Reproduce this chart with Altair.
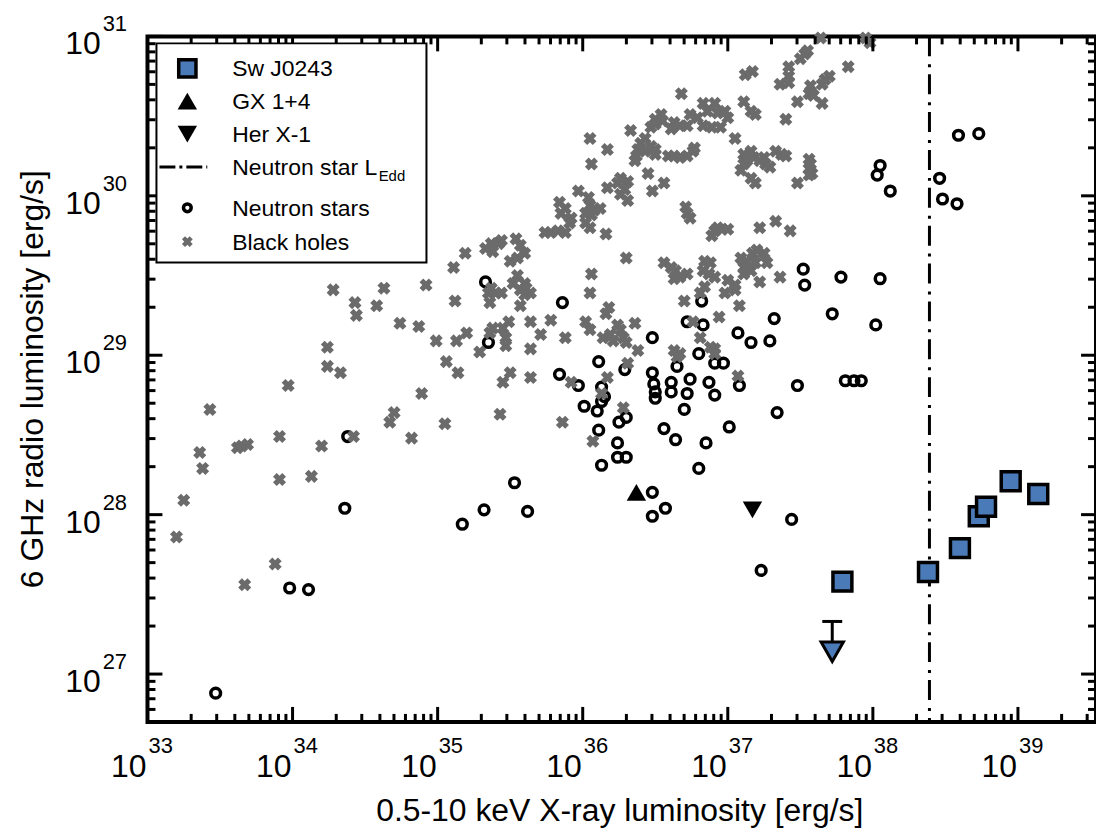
import altair as alt
import pandas as pd
import math

FONT = "Liberation Sans, Arial, Helvetica, sans-serif"

# ---- data (log10 of luminosity, erg/s) ----
bh_logx = [37.12, 37.17, 36.68, 37.11, 37.16, 37.19, 36.83, 36.91, 36.86, 36.93, 36.98, 37.00, 36.79, 36.74,
           36.83, 36.89, 36.95, 36.54, 36.50, 36.55, 36.63, 36.67, 36.72, 36.61, 36.33, 36.47, 36.50, 37.05,
           36.05, 36.17, 36.43, 36.40, 36.38, 36.47, 36.50, 36.50, 36.43, 36.59, 36.63, 36.67, 36.72, 36.76,
           36.77, 36.37, 36.36, 37.11, 37.16, 37.13, 37.18, 37.09, 37.16, 37.19, 37.11, 36.06, 36.45, 36.56,
           36.48, 36.26, 36.24, 36.31, 36.29, 36.26, 36.31, 36.17, 35.97, 35.84, 35.88, 35.85, 35.92, 35.91,
           36.04, 36.05, 36.02, 36.06, 36.02, 36.08, 36.12, 36.05, 36.16, 35.74, 35.78, 35.83, 35.88, 36.71,
           36.72, 36.74, 36.91, 36.93, 36.96, 37.00, 36.89, 36.30, 36.06, 36.56, 36.61, 36.64, 36.67, 36.63,
           36.72, 36.84, 36.88, 36.83, 36.87, 36.91, 37.00, 37.05, 37.09, 37.13, 37.17, 37.11, 37.16, 37.11,
           37.19, 35.19, 35.11, 35.33, 35.37, 35.42, 35.44, 35.54, 35.57, 35.60, 35.50, 35.55, 35.52, 35.60,
           34.92, 37.53, 37.55, 37.50, 37.83, 37.42, 37.42, 37.36, 37.42, 37.67, 37.70, 37.65, 37.57, 37.56,
           37.59, 37.65, 37.48, 37.40, 37.22, 37.26, 37.29, 37.25, 37.33, 37.37, 37.40, 37.56, 37.57, 37.56,
           37.58, 37.56, 37.48, 37.22, 37.33, 37.43, 37.20, 37.25, 37.27, 37.36, 37.22, 37.64, 37.95, 37.98,
           34.28, 34.43, 34.44, 34.58, 34.63, 35.12, 34.74, 34.87, 34.99, 35.13, 35.06, 35.14, 34.24, 34.24,
           34.33, 33.97, 33.43, 34.89, 34.70, 34.67, 35.05, 33.91, 34.20, 34.42, 34.82, 33.36, 33.38, 33.62,
           33.65, 33.69, 33.91, 34.13, 33.25, 33.20, 33.88, 33.67, 35.38, 35.55, 35.61, 35.64, 35.60, 35.57,
           35.37, 35.40, 35.44, 35.35, 35.36, 35.57, 36.05, 36.16, 36.18, 37.05, 36.98, 37.08, 36.70, 36.84,
           36.81, 36.76, 36.81, 36.94, 36.88, 36.91, 36.91, 36.63, 36.67, 36.65, 37.07, 36.02, 36.05, 36.14,
           36.19, 36.26, 36.24, 36.28, 36.30, 36.36, 36.21, 36.38, 36.31, 35.78, 35.64, 35.71, 35.64, 35.88,
           35.49, 35.45, 35.38, 35.36, 35.47, 35.47, 35.20, 35.29, 35.50, 35.45, 35.64, 35.92, 35.43, 35.86,
           36.13, 36.17, 36.28, 36.07]
bh_logy = [30.76, 30.78, 30.64, 30.59, 30.53, 30.51, 30.58, 30.58, 30.53, 30.52, 30.53, 30.49, 30.49, 30.51,
           30.44, 30.43, 30.43, 30.51, 30.48, 30.47, 30.46, 30.44, 30.44, 30.42, 30.41, 30.43, 30.45, 30.36,
           30.36, 30.29, 30.36, 30.33, 30.29, 30.31, 30.29, 30.26, 30.28, 30.25, 30.25, 30.24, 30.25, 30.28,
           30.30, 30.25, 30.22, 30.26, 30.28, 30.22, 30.24, 30.16, 30.11, 30.08, 30.20, 30.20, 30.14, 30.08,
           30.03, 30.11, 30.08, 30.09, 30.04, 30.01, 29.97, 30.05, 30.03, 29.96, 29.92, 29.89, 29.86, 29.83,
           29.99, 29.94, 29.89, 29.88, 29.83, 29.91, 29.92, 29.80, 29.76, 29.77, 29.77, 29.78, 29.77, 29.93,
           29.89, 29.86, 29.78, 29.80, 29.79, 29.79, 29.75, 29.61, 29.51, 29.58, 29.55, 29.53, 29.49, 29.48,
           29.51, 29.59, 29.58, 29.53, 29.51, 29.49, 29.47, 29.44, 29.61, 29.59, 29.64, 29.55, 29.53, 29.51,
           29.58, 29.64, 29.55, 29.67, 29.70, 29.70, 29.72, 29.73, 29.69, 29.64, 29.59, 29.50, 29.45, 29.45,
           29.44, 30.89, 30.91, 30.86, 30.81, 30.81, 30.75, 30.70, 30.71, 30.73, 30.75, 30.70, 30.69, 30.64,
           30.63, 30.58, 30.59, 30.48, 30.22, 30.20, 30.18, 30.24, 30.28, 30.26, 30.25, 30.23, 30.20, 30.17,
           30.14, 30.13, 30.08, 29.80, 29.84, 29.78, 29.66, 29.64, 29.58, 29.49, 29.46, 30.99, 30.99, 30.96,
           29.41, 29.33, 29.25, 29.31, 29.42, 29.34, 29.20, 29.18, 29.09, 29.09, 28.96, 28.89, 29.05, 28.93,
           28.89, 28.81, 28.66, 28.76, 28.64, 28.58, 28.57, 28.49, 28.43, 28.49, 28.48, 28.39, 28.29, 28.42,
           28.43, 28.44, 28.22, 28.24, 28.09, 27.86, 27.69, 27.56, 29.65, 29.61, 29.42, 29.39, 29.38, 29.41,
           29.42, 29.39, 29.39, 29.39, 29.33, 29.31, 29.39, 29.26, 29.30, 29.41, 29.39, 29.31, 29.34, 29.43,
           29.39, 29.21, 29.11, 29.24, 29.05, 29.04, 29.01, 29.03, 29.01, 28.99, 28.87, 29.21, 29.16, 29.11,
           29.13, 29.16, 29.19, 29.11, 29.08, 29.20, 29.09, 29.03, 28.95, 29.22, 29.21, 29.13, 29.04, 29.11,
           29.21, 29.17, 29.17, 29.14, 29.11, 29.06, 29.14, 29.02, 28.89, 28.83, 28.86, 28.83, 28.63, 28.58,
           28.76, 28.86, 28.67, 28.46]

ns_logx = [33.47, 33.98, 34.11, 34.36, 34.38, 35.17, 35.32, 35.53, 35.62, 35.33, 35.86, 35.35, 36.48, 36.82,
           36.72, 36.83, 37.07, 37.16, 36.80, 36.91, 36.97, 36.65, 36.11, 36.29, 35.84, 35.97, 36.13, 36.15,
           36.13, 36.01, 36.10, 36.48, 36.49, 36.50, 36.50, 36.61, 36.61, 36.74, 36.72, 36.87, 36.91, 37.08,
           36.70, 36.30, 36.25, 36.11, 36.24, 36.24, 36.30, 36.13, 36.56, 36.64, 37.01, 36.85, 36.80, 37.52,
           37.53, 37.78, 38.05, 37.32, 37.72, 38.02, 37.29, 37.48, 37.81, 37.87, 37.92, 37.34, 38.05, 38.03,
           38.12, 38.59, 38.73, 38.46, 38.48, 38.58, 36.48, 36.57, 36.48, 37.44, 37.23]
ns_logy = [26.88, 27.54, 27.53, 28.04, 28.49, 27.94, 28.03, 28.20, 28.02, 29.46, 29.33, 29.08, 29.11, 29.34,
           29.21, 29.19, 29.14, 29.08, 29.01, 28.95, 28.95, 28.93, 28.96, 28.91, 28.88, 28.81, 28.80, 28.74,
           28.71, 28.68, 28.65, 28.89, 28.82, 28.77, 28.73, 28.83, 28.77, 28.85, 28.76, 28.83, 28.75, 28.81,
           28.66, 28.61, 28.58, 28.53, 28.45, 28.36, 28.36, 28.31, 28.54, 28.47, 28.55, 28.45, 28.29, 29.54,
           29.44, 29.49, 29.48, 29.23, 29.26, 29.19, 29.09, 28.81, 28.84, 28.84, 28.84, 28.64, 30.19, 30.13,
           30.03, 30.38, 30.39, 30.11, 29.98, 29.95, 28.14, 28.04, 27.99, 27.97, 27.65]

sw_logx = [37.79, 38.38, 38.60, 38.73, 38.78, 38.95, 39.14]
sw_logy = [27.58, 27.64, 27.79, 27.99, 28.05, 28.21, 28.13]
sw_ul_logx = [37.72]
sw_ul_logy = [27.14]
sw_ul_bar_logy = [27.33]
gx_logx, gx_logy = [36.37], [28.14]
her_logx, her_logy = [37.17], [28.03]
ledd_logx = [38.39]

x_decades = [33, 34, 35, 36, 37, 38, 39]
y_decades = [27, 28, 29, 30, 31]
legend_labels = ["Sw J0243", "GX 1+4", "Her X-1", "Neutron star L", "Neutron stars", "Black holes"]

# ---- layout ----
X_MIN, X_MAX = 33.0, 39.538
Y_MIN, Y_MAX = 26.7, 31.0
W, H = 952, 688

xs = alt.Scale(type="log", domain=[10 ** X_MIN, 10 ** X_MAX], nice=False)
ys = alt.Scale(type="log", domain=[10 ** Y_MIN, 10 ** Y_MAX], nice=False)


def XQ(f="x"):
    return alt.X(f"{f}:Q", scale=xs, axis=None)


def YQ(f="y"):
    return alt.Y(f"{f}:Q", scale=ys, axis=None)


def pts(lx, ly):
    return pd.DataFrame({"x": [10 ** v for v in lx], "y": [10 ** v for v in ly]})


GRAY = "#6b6b6b"
BLUE = "#4a7bb8"

ns_layer = alt.Chart(pts(ns_logx, ns_logy)).mark_point(
    shape="circle", filled=False, size=95, stroke="black", strokeWidth=3.5, opacity=1
).encode(x=XQ(), y=YQ())

bh_layer = alt.Chart(pts(bh_logx, bh_logy)).mark_point(
    shape="cross", filled=True, size=175, angle=45, color=GRAY, opacity=1
).encode(x=XQ(), y=YQ())

ledd_layer = alt.Chart(pd.DataFrame({"x": [10 ** v for v in ledd_logx]})).mark_rule(
    color="black", strokeWidth=3, strokeDash=[20, 8, 3, 7]
).encode(x=XQ())

sw_layer = alt.Chart(pts(sw_logx, sw_logy)).mark_point(
    shape="square", filled=True, size=361, fill=BLUE, stroke="black", strokeWidth=3.5, opacity=1
).encode(x=XQ(), y=YQ())

ul_df = pd.DataFrame({"x": [10 ** v for v in sw_ul_logx], "y": [10 ** v for v in sw_ul_logy],
                      "ybar": [10 ** v for v in sw_ul_bar_logy]})
ul_rule = alt.Chart(ul_df).mark_rule(color="black", strokeWidth=3).encode(x=XQ(), y=YQ("ybar"), y2="y:Q")
ul_bar = alt.Chart(ul_df).mark_tick(orient="horizontal", size=20, thickness=3, color="black", opacity=1).encode(
    x=XQ(), y=YQ("ybar"))
ul_tri = alt.Chart(ul_df).mark_point(
    shape="triangle-down", filled=True, size=500, fill=BLUE, stroke="black", strokeWidth=3, opacity=1
).encode(x=XQ(), y=YQ())

gx_layer = alt.Chart(pts(gx_logx, gx_logy)).mark_point(
    shape="triangle-up", filled=True, size=380, color="black", opacity=1
).encode(x=XQ(), y=YQ())
her_layer = alt.Chart(pts(her_logx, her_logy)).mark_point(
    shape="triangle-down", filled=True, size=380, color="black", opacity=1
).encode(x=XQ(), y=YQ())

# ---- ticks (inward, all four sides) ----
x_major = [10 ** d for d in x_decades if d <= X_MAX]
x_minor = [k * 10 ** d for d in x_decades for k in range(2, 10) if d + math.log10(k) <= X_MAX]
y_major = [10 ** d for d in y_decades]
y_minor = [k * 10 ** d for d in [26] + y_decades for k in range(2, 10)
           if Y_MIN <= d + math.log10(k) <= Y_MAX]

TW = 3
MAJ, MIN = 15, 8


def xticks(vals, L):
    df = pd.DataFrame({"x": vals})
    b = alt.Chart(df).mark_rule(color="black", strokeWidth=TW).encode(
        x=XQ(), y=alt.value(H), y2=alt.value(H - L))
    t = alt.Chart(df).mark_rule(color="black", strokeWidth=TW).encode(
        x=XQ(), y=alt.value(0), y2=alt.value(L))
    return [b, t]


def yticks(vals, L):
    df = pd.DataFrame({"y": vals})
    l = alt.Chart(df).mark_rule(color="black", strokeWidth=TW).encode(
        y=YQ(), x=alt.value(0), x2=alt.value(L))
    r = alt.Chart(df).mark_rule(color="black", strokeWidth=TW).encode(
        y=YQ(), x=alt.value(W), x2=alt.value(W - L))
    return [l, r]


tick_layers = xticks(x_major, MAJ) + xticks(x_minor, MIN) + yticks(y_major, MAJ) + yticks(y_minor, MIN)

# ---- tick labels: 10 with superscript exponent ----
xl = pd.DataFrame({"x": [10 ** d for d in x_decades], "b": ["10"] * len(x_decades),
                   "e": [str(d) for d in x_decades]})
yl = pd.DataFrame({"y": [10 ** d for d in y_decades], "b": ["10"] * len(y_decades),
                   "e": [str(d) for d in y_decades]})
xlab_b = alt.Chart(xl).mark_text(font=FONT, fontSize=32, align="right", baseline="alphabetic", dx=-1,
                                 color="black").encode(x=XQ(), y=alt.value(H + 55), text="b:N")
xlab_e = alt.Chart(xl).mark_text(font=FONT, fontSize=22, align="left", baseline="alphabetic", dx=1,
                                 color="black").encode(x=XQ(), y=alt.value(H + 31), text="e:N")
ylab_b = alt.Chart(yl).mark_text(font=FONT, fontSize=32, align="right", baseline="alphabetic", dy=18,
                                 color="black").encode(y=YQ(), x=alt.value(-47), text="b:N")
ylab_e = alt.Chart(yl).mark_text(font=FONT, fontSize=22, align="left", baseline="alphabetic", dy=-5,
                                 color="black").encode(y=YQ(), x=alt.value(-45), text="e:N")

# ---- axis titles ----
one = pd.DataFrame({"t": ["0.5-10 keV X-ray luminosity [erg/s]"]})
xtitle = alt.Chart(one).mark_text(font=FONT, fontSize=32, align="center", baseline="alphabetic",
                                  color="black").encode(x=alt.value(W / 2 - 2), y=alt.value(H + 99), text="t:N")
two = pd.DataFrame({"t": ["6 GHz radio luminosity [erg/s]"]})
ytitle = alt.Chart(two).mark_text(font=FONT, fontSize=32, align="center", baseline="alphabetic", angle=270,
                                  color="black").encode(x=alt.value(-105), y=alt.value(H / 2), text="t:N")

# ---- legend (drawn by hand) ----
rows = [32, 65, 98, 131, 172, 206]
SX, TX = 40, 85
dummy = pd.DataFrame({"a": [0]})
leg = [alt.Chart(dummy).mark_rect(fill="white", stroke="black", strokeWidth=2).encode(
    x=alt.value(9), x2=alt.value(280), y=alt.value(7), y2=alt.value(227))]
for lab, ry in zip(legend_labels, rows):
    leg.append(alt.Chart(pd.DataFrame({"t": [lab]})).mark_text(
        font=FONT, fontSize=23, align="left", baseline="alphabetic", color="black").encode(
        x=alt.value(TX), y=alt.value(ry + 8), text="t:N"))
leg.append(alt.Chart(pd.DataFrame({"t": ["Edd"]})).mark_text(
    font=FONT, fontSize=15, align="left", baseline="alphabetic", color="black").encode(
    x=alt.value(TX + 147), y=alt.value(rows[3] + 14), text="t:N"))
leg.append(alt.Chart(dummy).mark_point(shape="square", filled=True, size=300, fill=BLUE, stroke="black",
                                       strokeWidth=3.5, opacity=1).encode(x=alt.value(SX), y=alt.value(rows[0])))
leg.append(alt.Chart(dummy).mark_point(shape="triangle-up", filled=True, size=380, color="black",
                                       opacity=1).encode(x=alt.value(SX), y=alt.value(rows[1])))
leg.append(alt.Chart(dummy).mark_point(shape="triangle-down", filled=True, size=380, color="black",
                                       opacity=1).encode(x=alt.value(SX), y=alt.value(rows[2])))
leg.append(alt.Chart(dummy).mark_rule(color="black", strokeWidth=3, strokeDash=[16, 4, 3, 4]).encode(
    x=alt.value(SX - 28), x2=alt.value(SX + 20), y=alt.value(rows[3])))
leg.append(alt.Chart(dummy).mark_point(shape="circle", filled=False, size=60, stroke="black", strokeWidth=3.5,
                                       opacity=1).encode(x=alt.value(SX), y=alt.value(rows[4])))
leg.append(alt.Chart(dummy).mark_point(shape="cross", filled=True, size=120, angle=45, color=GRAY,
                                       opacity=1).encode(x=alt.value(SX), y=alt.value(rows[5])))

chart = alt.layer(
    ns_layer, bh_layer, ledd_layer, ul_rule, ul_bar, ul_tri, sw_layer, gx_layer, her_layer,
    *tick_layers, xlab_b, xlab_e, ylab_b, ylab_e, xtitle, ytitle, *leg
).properties(
    width=W, height=H,
    padding={"left": 140, "top": 27, "right": 0, "bottom": 105},
    autosize=alt.AutoSizeParams(type="none"),
    background="white",
).configure_view(stroke="black", strokeWidth=4)

chart.save("out.html", embed_options={"renderer": "svg", "actions": False})
